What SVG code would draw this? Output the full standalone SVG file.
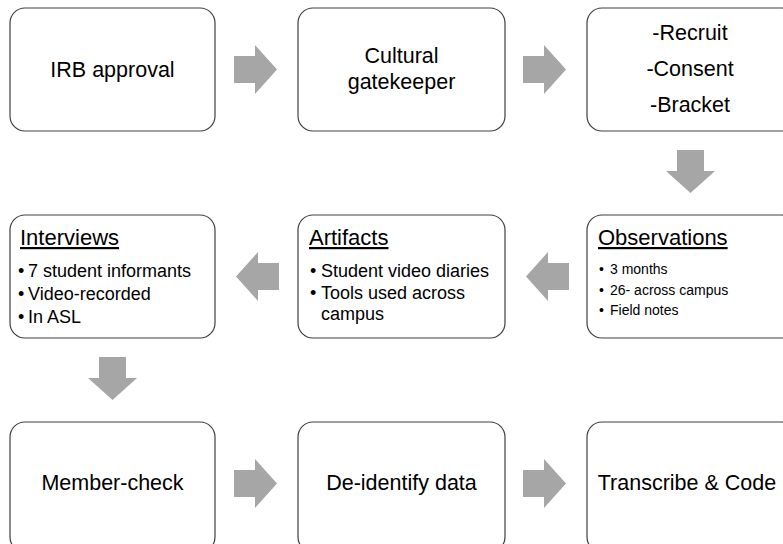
<svg xmlns="http://www.w3.org/2000/svg" width="783" height="544" viewBox="0 0 783 544">
<style>
.box{fill:#fff;stroke:#404040;stroke-width:1.2}
.t{font-family:"Liberation Sans",Arial,sans-serif;fill:#000}
.main{font-size:21.5px;text-anchor:middle}
.hdr{font-size:22px;text-decoration:underline}
.bl{font-size:18px}
.bs{font-size:14px}
.arr{fill:#a6a6a6}
</style>
<defs>
<path id="ar" d="M0,-13.5 H21 V-24.5 L43,0 L21,24.5 V13.5 H0 Z"/>
</defs>
<g id="connectors" class="arr">
<use href="#ar" transform="translate(234,69.5)"/>
<use href="#ar" transform="translate(523,69.5)"/>
<use href="#ar" transform="translate(690.5,150) rotate(90)"/>
<use href="#ar" transform="translate(569,276.5) rotate(180)"/>
<use href="#ar" transform="translate(279,276.5) rotate(180)"/>
<use href="#ar" transform="translate(112.5,357) rotate(90)"/>
<use href="#ar" transform="translate(234,483.5)"/>
<use href="#ar" transform="translate(523,483.5)"/>
</g>
<g id="irb">
<rect class="box" x="10" y="8" width="205" height="123" rx="15"/>
<text class="t main" x="112.5" y="77">IRB approval</text>
</g>
<g id="gatekeeper">
<rect class="box" x="298" y="8" width="207" height="123" rx="15"/>
<text class="t main" x="401.5" y="63">Cultural</text>
<text class="t main" x="401.5" y="89">gatekeeper</text>
</g>
<g id="recruit">
<rect class="box" x="587" y="8" width="210" height="123" rx="15"/>
<text class="t main" x="690" y="40">-Recruit</text>
<text class="t main" x="690" y="76">-Consent</text>
<text class="t main" x="690" y="112">-Bracket</text>
</g>
<g id="observations">
<rect class="box" x="587" y="215" width="210" height="123" rx="15"/>
<text class="t hdr" x="598" y="245">Observations</text>
<text class="t bs" y="274"><tspan x="599">•</tspan><tspan x="610">3 months</tspan></text>
<text class="t bs" y="295"><tspan x="599">•</tspan><tspan x="610">26- across campus</tspan></text>
<text class="t bs" y="315"><tspan x="599">•</tspan><tspan x="610">Field notes</tspan></text>
</g>
<g id="artifacts">
<rect class="box" x="298" y="215" width="207" height="123" rx="15"/>
<text class="t hdr" x="309" y="245">Artifacts</text>
<text class="t bl" y="277"><tspan x="310">•</tspan><tspan x="321">Student video diaries</tspan></text>
<text class="t bl" y="299"><tspan x="310">•</tspan><tspan x="321">Tools used across</tspan></text>
<text class="t bl" x="321" y="320">campus</text>
</g>
<g id="interviews">
<rect class="box" x="10" y="215" width="205" height="123" rx="15"/>
<text class="t hdr" x="20" y="245">Interviews</text>
<text class="t bl" y="277"><tspan x="18">•</tspan><tspan x="28">7 student informants</tspan></text>
<text class="t bl" y="300"><tspan x="18">•</tspan><tspan x="28">Video-recorded</tspan></text>
<text class="t bl" y="323"><tspan x="18">•</tspan><tspan x="28">In ASL</tspan></text>
</g>
<g id="member-check">
<rect class="box" x="10" y="422" width="205" height="130" rx="15"/>
<text class="t main" x="112.5" y="490">Member-check</text>
</g>
<g id="deidentify">
<rect class="box" x="298" y="422" width="207" height="130" rx="15"/>
<text class="t main" x="401.5" y="490">De-identify data</text>
</g>
<g id="transcribe">
<rect class="box" x="587" y="422" width="210" height="130" rx="15"/>
<text class="t main" x="687" y="490">Transcribe &amp; Code</text>
</g>
</svg>
